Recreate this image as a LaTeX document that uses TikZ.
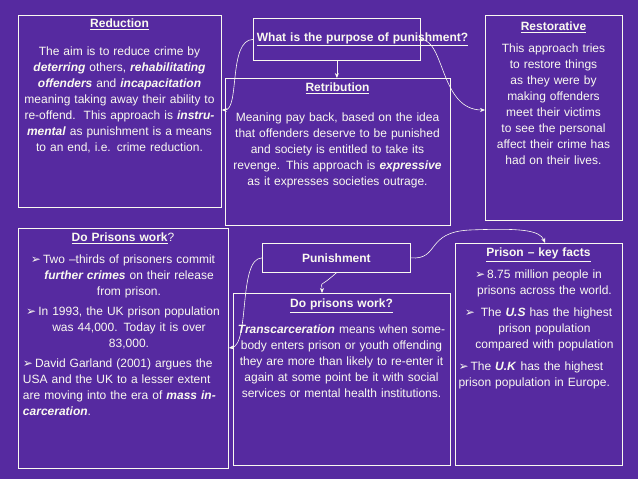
\documentclass[tikz,border=0pt]{standalone}
\usepackage{fontspec}
\setmainfont{Liberation Sans}
\newfontfamily\symfont{DejaVu Sans}
\usetikzlibrary{arrows.meta}
\definecolor{bgpurple}{RGB}{86,42,160}
\definecolor{inkwhite}{RGB}{250,250,240}
\tikzset{box/.style = {draw=inkwhite, line width=0.8pt, inner sep=0pt, anchor=north west},
         txt/.style = {text=inkwhite, anchor=north, inner sep=0pt, align=center,
                       font=\fontsize{12}{16}\selectfont},
         link/.style = {draw=inkwhite!85, line width=0.6pt, -{Stealth[length=5pt,width=4pt]}}}
\newcommand{\bul}{{\symfont\char"27A2}\,}
\newcommand{\hd}[1]{\underline{\textbf{#1}}}
\newcommand{\emp}[1]{\textbf{\textit{#1}}}
\newcommand{\pt}{\par\hangindent=1em\hangafter=1\noindent}

\begin{document}
\begin{tikzpicture}[x=1pt,y=-1pt]
    \fill[bgpurple] (0,0) rectangle (638,479);
    \useasboundingbox (0,0) rectangle (638,479);

    % Boxes
    \node[box, minimum width=203, minimum height=192] (red) at (18,15) {};
    \node[box, minimum width=167, minimum height=42] (purp) at (253,18) {};
    \node[box, minimum width=225, minimum height=147] (ret) at (225,78) {};
    \node[box, minimum width=137, minimum height=205] (rest) at (485,15) {};
    \node[box, minimum width=210, minimum height=240] (work) at (18,228) {};
    \node[box, minimum width=148, minimum height=29] (pun) at (262,243) {};
    \node[box, minimum width=217, minimum height=172] (trans) at (233,293) {};
    \node[box, minimum width=167, minimum height=222] (facts) at (455,243) {};

    % Texts
    \node[txt, text width=195] at (119.5,19) {\hd{Reduction}\\[12pt]
        The aim is to reduce crime by \emp{deterring} others, \emp{rehabilitating offenders} and
        \emp{incapacitation} meaning taking away their ability to re-offend.\ \ This approach is
        \emp{instrumental} as punishment is a means to an end, i.e. crime reduction.};
    \node[txt, text width=160] at (purp.center) [anchor=center] {\hd{What is the purpose of punishment?}};
    \node[txt, text width=220] at (337.5,83) {\hd{Retribution}\\[14pt]
        Meaning pay back, based on the idea that offenders deserve to be punished and society is
        entitled to take its revenge. This approach is \emp{expressive} as it expresses societies outrage.};
    \node[txt, text width=130] at (553.5,22) {\hd{Restorative}\\[6pt]
        This approach tries to restore things as they were by making offenders meet their victims to
        see the personal affect their crime has had on their lives.};
    \node[txt, text width=200, align=left] at (123,233) {\centering\hd{Do Prisons work}?\par\vspace{6pt}
        \pt\bul Two --thirds of prisoners commit \emp{further crimes} on their release from prison.\par\vspace{4pt}
        \pt\bul In 1993, the UK prison population was 44,000. Today it is over 83,000.\par\vspace{4pt}
        \pt\bul David Garland (2001) argues the USA and the UK to a lesser extent are moving into the era of
        \emp{mass incarceration}.};
    \node[txt] at (pun.center) [anchor=center] {\textbf{Punishment}};
    \node[txt, text width=208] at (341.5,299) {\hd{Do prisons work?}\\[10pt]
        \emp{Transcarceration} means when somebody enters prison or youth offending they are more than
        likely to re-enter it again at some point be it with social services or mental health institutions.};
    \node[txt, text width=160, align=left] at (538.5,248) {\centering\hd{Prison -- key facts}\par\vspace{6pt}
        \pt\bul 8.75 million people in prisons across the world.\par\vspace{6pt}
        \pt\bul\ The \emp{U.S} has the highest prison population compared with population\par\vspace{6pt}
        \pt\bul The \emp{U.K} has the highest prison population in Europe.};

    % Connectors
    \draw[link] (purp.south) -- (ret.north -| purp.south);
    \draw[link] (purp.west) .. controls (228,40) and (240,110) .. (red.east |- 0,110);
    \draw[link] (purp.east) .. controls (445,40) and (440,110) .. (rest.west |- 0,110);
    \draw[link] (pun.south) ++(0,0) .. controls (317,290) and (322,280) .. (trans.north -| 322,0);
    \draw[link] (pun.west) .. controls (238,258) and (250,345) .. (work.east |- 0,348);
    \draw[link] (pun.east) .. controls (440,260) and (425,232) .. (470,230)
        .. controls (520,228) and (540,230) .. (facts.north -| 545,0);
\end{tikzpicture}
\end{document}
